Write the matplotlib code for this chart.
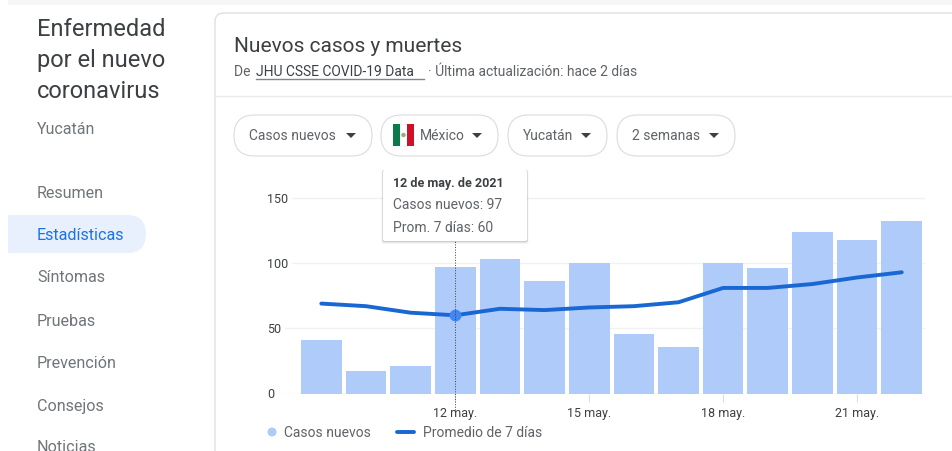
import matplotlib
matplotlib.use('Agg')
import matplotlib.pyplot as plt
from matplotlib.patches import FancyBboxPatch, Polygon, Rectangle, Circle

plt.rcParams['font.family'] = ['Roboto', 'DejaVu Sans']

# Datos de la grafica
dias = [9, 10, 11, 12, 13, 14, 15, 16, 17, 18, 19, 20, 21, 22]
casos_nuevos = [41, 17, 21, 97, 103, 86, 100, 46, 36, 100, 96, 124, 118, 132]
promedio_7_dias = [69, 67, 62, 60, 65, 64, 66, 67, 70, 81, 81, 84, 89, 93]
dias_marcados = [12, 15, 18, 21]
etiquetas_x = ['12 may.', '15 may.', '18 may.', '21 may.']
marcas_y = [0, 50, 100, 150]
dia_activo = 12

# Textos de la pagina
menu = ['Resumen', 'Estadísticas', 'Síntomas', 'Pruebas', 'Prevención', 'Consejos', 'Noticias']
menu_y = [193, 236, 278, 321, 363, 406, 448]
filtros = ['Casos nuevos', 'México', 'Yucatán', '2 semanas']
filtros_x = [(234, 372), (381, 498), (508, 607), (617, 735)]

ANCHO, ALTO = 953, 451
GRIS = '#5f6368'
GRIS_CLARO = '#70757a'
OSCURO = '#3c4043'
BORDE = '#dadce0'

fig = plt.figure(figsize=(ANCHO / 100, ALTO / 100), dpi=100, facecolor='white')


def caja_px(izq, arriba, der, abajo):
    return [izq / ANCHO, (ALTO - abajo) / ALTO, (der - izq) / ANCHO, (abajo - arriba) / ALTO]


# Ejes de la grafica, en la misma escala de pixeles que la referencia
ax = fig.add_axes(caja_px(267, 190, 925, 393.5))
ax.set_facecolor('none')
paso = 44.65
ax.set_xlim(9 + (267 - 321.3) / paso, 9 + (925 - 321.3) / paso)
ax.set_ylim(0, 203.5 / 1.3033)

ax.bar(dias, casos_nuevos, width=0.91, color='#aecbfa', zorder=2)
ax.plot(dias, promedio_7_dias, color='#1967d2', lw=2.8, solid_capstyle='round', zorder=3)
i_activo = dias.index(dia_activo)
ax.plot([dia_activo], [promedio_7_dias[i_activo]], 'o', color='#4285f4', ms=7.5, zorder=4)
ax.axvline(dia_activo, ymin=-0.105, ymax=1, color='#3c4043', lw=0.7, ls=':', clip_on=False, zorder=4)

for lado in ax.spines.values():
    lado.set_visible(False)
ax.set_axisbelow(True)
ax.grid(axis='y', color='#f1f1f1', lw=1)
ax.set_yticks(marcas_y)
ax.set_xticks(dias_marcados)
ax.set_xticklabels(etiquetas_x)
ax.tick_params(axis='x', length=6, width=0.8, color=BORDE, labelsize=9, labelcolor=OSCURO, pad=4)
ax.tick_params(axis='y', length=0, pad=0, labelsize=9, labelcolor=OSCURO)
for etiqueta in ax.get_yticklabels():
    etiqueta.set_ha('left')
    etiqueta.set_bbox(dict(facecolor='white', edgecolor='none', pad=2.5))

# Capa de interfaz en pixeles
ui = fig.add_axes([0, 0, 1, 1])
ui.set_xlim(0, ANCHO)
ui.set_ylim(ALTO, 0)
ui.axis('off')
ui.patch.set_alpha(0)

# Sombra superior
ui.add_patch(Rectangle((8, 0), ANCHO, 5, fc='#f6f6f6', ec='none'))

# Tarjeta
ui.add_patch(FancyBboxPatch((215, 13), 800, 500, boxstyle='round,pad=0,rounding_size=9',
                            fc='none', ec=BORDE, lw=0.9))
ui.plot([215, ANCHO], [95.5, 95.5], color='#e8eaed', lw=1)

# Barra lateral
for y, texto in zip([29.5, 60.5, 91.5], ['Enfermedad', 'por el nuevo', 'coronavirus']):
    ui.text(37, y, texto, fontsize=17, color=OSCURO, va='center')
ui.text(37, 129, 'Yucatán', fontsize=11.5, color=GRIS_CLARO, va='center')

ui.add_patch(FancyBboxPatch((-20, 215), 166, 38, boxstyle='round,pad=0,rounding_size=19',
                            fc='#e8f0fe', ec='none'))
ui.add_patch(Rectangle((0, 213), 8, 42, fc='white', ec='none'))
for texto, y in zip(menu, menu_y):
    activo = texto == 'Estadísticas'
    ui.text(37, y, texto, fontsize=11.6, color='#1a73e8' if activo else GRIS_CLARO, va='center')

# Encabezado de la tarjeta
ui.text(234, 46.5, 'Nuevos casos y muertes', fontsize=15, color=OSCURO, va='center')
ui.text(234, 72, 'De ', fontsize=10, color=GRIS, va='center')
ui.text(256, 72, 'JHU CSSE COVID-19 Data', fontsize=10, color=OSCURO, va='center')
ui.plot([256, 424], [78.5, 78.5], color='#80868b', lw=1)
ui.text(428.5, 72, '· Última actualización: hace 2 días', fontsize=10, color=GRIS, va='center')

# Filtros
for texto, (x0, x1) in zip(filtros, filtros_x):
    ui.add_patch(FancyBboxPatch((x0, 115), x1 - x0, 41, boxstyle='round,pad=0,rounding_size=20.5',
                                fc='white', ec=BORDE, lw=0.8))
    tx = x0 + 39 if texto == 'México' else x0 + 15
    ui.text(tx, 135.5, texto, fontsize=10, color=GRIS, va='center')
    ui.add_patch(Polygon([(x1 - 26, 133), (x1 - 16, 133), (x1 - 21, 138)], fc=OSCURO, ec='none'))

# Bandera
ui.add_patch(Rectangle((393, 124), 7, 22, fc='#0b7a4b', ec='none'))
ui.add_patch(Rectangle((400, 124), 7, 22, fc='white', ec='#eeeeee', lw=0.5))
ui.add_patch(Rectangle((407, 124), 7, 22, fc='#ce1126', ec='none'))
ui.add_patch(Circle((403.5, 135), 2.2, fc='#a8a080', ec='none'))

# Recuadro informativo
for d, a in [(3, 0.04), (2, 0.06), (1, 0.1)]:
    ui.add_patch(FancyBboxPatch((383 - d / 2, 170), 144 + d, 71 + d, boxstyle='round,pad=0,rounding_size=2',
                                fc='black', ec='none', alpha=a))
ui.add_patch(FancyBboxPatch((383, 170), 144, 71, boxstyle='round,pad=0,rounding_size=2',
                            fc='white', ec='none'))
ui.text(393, 184, '12 de may. de 2021', fontsize=9, color=OSCURO, va='center', fontweight='bold')
ui.text(393, 205, f'Casos nuevos: {casos_nuevos[i_activo]}', fontsize=10, color=GRIS, va='center')
ui.text(393, 228, f'Prom. 7 días: {promedio_7_dias[i_activo]}', fontsize=10, color=GRIS, va='center')

# Leyenda
ui.add_patch(Circle((272, 432), 4.5, fc='#aecbfa', ec='none'))
ui.text(284, 433, 'Casos nuevos', fontsize=10, color=GRIS, va='center')
ui.plot([397, 414], [432, 432], color='#1967d2', lw=2.8, solid_capstyle='round')
ui.text(423, 433, 'Promedio de 7 días', fontsize=10, color=GRIS, va='center')

fig.savefig('out.png', dpi=100)
